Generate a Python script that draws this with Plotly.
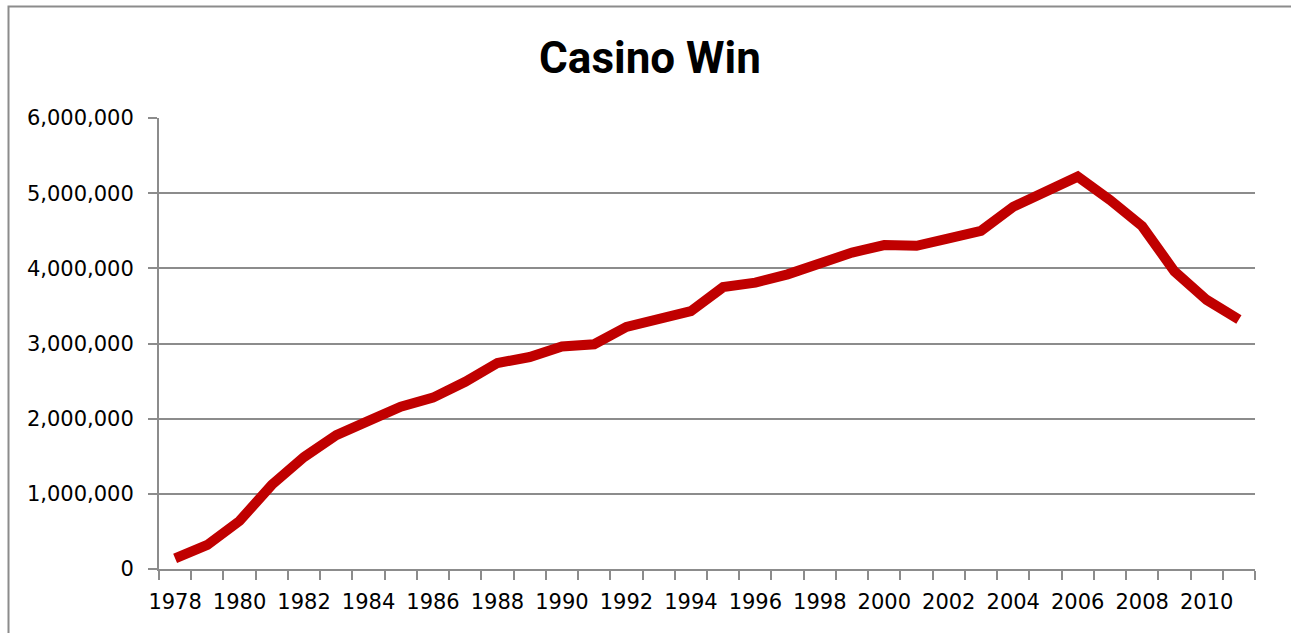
import plotly.graph_objects as go

# Annual casino win, 1978-2011
years = list(range(1978, 2012))
casino_win = [
    140000, 320000, 640000, 1120000, 1490000, 1780000, 1970000, 2160000,
    2280000, 2490000, 2740000, 2820000, 2960000, 2990000, 3220000, 3310000,
    3430000, 3750000, 3810000, 3920000, 4070000, 4210000, 4310000, 4300000,
    4400000, 4500000, 4820000, 5020000, 5220000, 4910000, 4560000, 3960000,
    3580000, 3320000,
]
y_ticks = [0, 1000000, 2000000, 3000000, 4000000, 5000000, 6000000]
x_labels = years[::2]

GRID = "#8c8c8c"
TICK_FONT = dict(family="DejaVu Sans", size=21, color="#000000")

W, H = 1291, 633
L, R, T, B = 159, 36, 118, 64
pw, ph = W - L - R, H - T - B

fig = go.Figure()
fig.add_trace(go.Scatter(
    x=years, y=casino_win, mode="lines",
    line=dict(color="#c00000", width=10),
    hoverinfo="x+y", showlegend=False,
))

fig.update_layout(
    width=W, height=H,
    margin=dict(l=L, r=R, t=T, b=B),
    paper_bgcolor="white", plot_bgcolor="white",
    title=dict(
        text="<b>Casino Win</b>", x=(650 - L) / pw, xref="paper", xanchor="center",
        y=1 - 58 / H, yanchor="middle",
        font=dict(family="Roboto", size=44, color="#000000"),
    ),
    xaxis=dict(
        range=[1977.5, 2011.5],
        tickmode="array", tickvals=x_labels, ticktext=[str(v) for v in x_labels],
        ticks="outside", ticklen=13, tickcolor="rgba(0,0,0,0)",
        showgrid=False, zeroline=False,
        showline=True, linecolor=GRID, linewidth=2,
        tickfont=TICK_FONT,
        minor=dict(
            tickmode="array",
            tickvals=[y - 0.5 for y in years] + [years[-1] + 0.5],
            ticks="outside", ticklen=9, tickcolor=GRID, tickwidth=2,
            showgrid=False,
        ),
    ),
    yaxis=dict(
        range=[0, 6000000],
        tickmode="array", tickvals=y_ticks, tickformat=",d",
        ticks="outside", ticklen=9, tickcolor=GRID, tickwidth=2,
        showgrid=True, gridcolor=GRID, gridwidth=2,
        zeroline=False,
        showline=True, linecolor=GRID, linewidth=2,
        tickfont=TICK_FONT,
        ticklabelstandoff=10,
    ),
    shapes=[
        # chart frame (top and left edges visible)
        dict(type="rect", xref="paper", yref="paper",
             x0=(8.5 - L) / pw, x1=(W + 20 - L) / pw,
             y0=-(B + 20) / ph, y1=(H - B - 6.5) / ph,
             line=dict(color="#8c8c8c", width=2), fillcolor="rgba(0,0,0,0)",
             layer="below"),
    ],
)

fig.write_html("out.html")
